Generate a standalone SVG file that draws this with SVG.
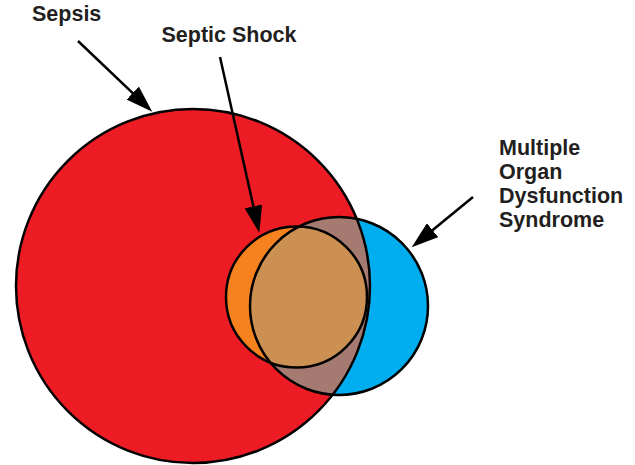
<svg xmlns="http://www.w3.org/2000/svg" width="635" height="465" viewBox="0 0 635 465">
<style>
.lbl{font-family:"Liberation Sans",Arial,Helvetica,sans-serif;font-weight:bold;font-size:21.5px;fill:#231f20}
.edge{fill:none;stroke:#000;stroke-width:2.5}
.conn{stroke:#000;stroke-width:2.5;fill:none}
</style>
<defs>
<clipPath id="clipRed"><circle cx="193" cy="286" r="177"/></clipPath>
<clipPath id="clipBlue"><circle cx="339" cy="306" r="89"/></clipPath>
<marker id="ah" viewBox="0 0 27 18" refX="12" refY="9" markerWidth="27" markerHeight="18" markerUnits="userSpaceOnUse" orient="auto">
<path d="M0,0 L27,9 L0,18 Z" fill="#000"/>
</marker>
</defs>
<g id="sepsis">
<circle cx="193" cy="286" r="177" fill="#ed1c24"/>
</g>
<g id="mods">
<circle cx="339" cy="306" r="89" fill="#00aeef"/>
<circle cx="339" cy="306" r="89" fill="#a57a70" clip-path="url(#clipRed)"/>
</g>
<g id="septic-shock">
<circle cx="296.5" cy="297" r="70.5" fill="#f6821f"/>
<circle cx="296.5" cy="297" r="70.5" fill="#cc9152" clip-path="url(#clipBlue)"/>
</g>
<g id="outlines">
<circle class="edge" cx="193" cy="286" r="177"/>
<circle class="edge" cx="339" cy="306" r="89"/>
<circle class="edge" cx="296.5" cy="297" r="70.5"/>
</g>
<g id="connectors">
<line class="conn" x1="78" y1="41" x2="141.4" y2="101.4" marker-end="url(#ah)"/>
<line class="conn" x1="220" y1="57" x2="256" y2="218.1" marker-end="url(#ah)"/>
<line class="conn" x1="473" y1="197" x2="423.3" y2="237.8" marker-end="url(#ah)"/>
</g>
<g id="labels">
<text class="lbl" x="32" y="21.3">Sepsis</text>
<text class="lbl" x="161.5" y="42">Septic Shock</text>
<text class="lbl" x="499" y="155">Multiple</text>
<text class="lbl" x="499" y="178.5">Organ</text>
<text class="lbl" x="499" y="202.5">Dysfunction</text>
<text class="lbl" x="499" y="227">Syndrome</text>
</g>
</svg>
